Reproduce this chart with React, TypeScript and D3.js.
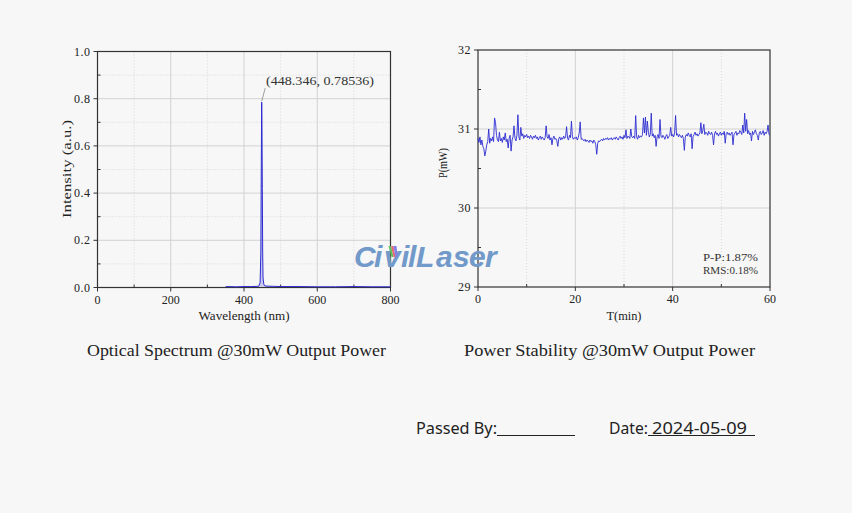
import React from "react";
import * as d3 from "d3";

// ---------- data ----------
const specWavelength = [350, 380, 400, 420, 440, 444, 446, 447, 448, 448.346, 449, 450, 451, 452, 454, 456, 460, 480, 500, 550, 600, 650, 700, 750, 800];
const specIntensity = [0.004, 0.003, 0.004, 0.004, 0.005, 0.02, 0.15, 0.45, 0.74, 0.78536, 0.7, 0.42, 0.15, 0.04, 0.015, 0.008, 0.006, 0.005, 0.004, 0.004, 0.003, 0.003, 0.004, 0.003, 0.003];
const specXTicks = [0, 200, 400, 600, 800];
const specYTicks = [0, 0.2, 0.4, 0.6, 0.8, 1.0];
const peakLabel = "(448.346, 0.78536)";

const powerStep = 0.2; // minutes between samples
const powerValues = [
  30.88, 30.83, 30.90, 30.80, 30.86, 30.78, 30.75, 30.66, 30.72, 30.80,
  30.84, 31.00, 30.82, 30.88, 30.85, 30.90, 30.84, 31.14, 31.08, 30.92,
  30.86, 30.84, 30.96, 30.85, 30.88, 30.83, 30.90, 30.86, 30.95, 30.84,
  30.87, 30.76, 30.88, 30.92, 30.72, 30.86, 30.90, 31.04, 30.88, 30.85,
  30.92, 31.18, 30.90, 30.86, 31.02, 30.91, 30.94, 30.88, 30.92, 30.90,
  30.93, 30.89, 30.91, 30.88, 30.92, 30.90, 30.87, 30.91, 30.89, 30.92,
  30.88, 30.90, 30.86, 30.89, 30.91, 30.87, 30.90, 30.88, 30.86, 30.89,
  31.04, 30.90, 30.88, 30.93, 30.86, 30.89, 30.80, 30.88, 30.91, 30.87,
  30.88, 30.85, 30.78, 30.88, 30.90, 30.86, 30.89, 30.87, 30.91, 30.88,
  30.90, 31.03, 30.88, 30.86, 30.92, 30.89, 31.10, 30.90, 30.87, 30.89,
  30.88, 30.90, 30.86, 30.89, 30.95, 31.09, 30.87, 30.88, 30.86, 30.85,
  30.87, 30.84, 30.86, 30.85, 30.83, 30.86, 30.84, 30.85, 30.82, 30.86,
  30.84, 30.80, 30.68, 30.82, 30.85, 30.84, 30.86, 30.87, 30.85, 30.88,
  30.86, 30.88, 30.87, 30.89, 30.86, 30.88, 30.87, 30.89, 30.86, 30.88,
  30.89, 30.87, 30.90, 30.88, 30.86, 30.89, 30.91, 30.88, 30.90, 30.87,
  30.92, 30.89, 30.99, 30.88, 30.91, 30.90, 30.88, 31.00, 30.90, 30.89,
  30.91, 30.88, 31.17, 30.90, 30.87, 30.92, 30.89, 30.91, 30.90, 30.93,
  31.14, 30.95, 31.15, 30.92, 31.10, 30.96, 30.90, 30.93, 31.20, 30.91,
  30.94, 30.89, 30.92, 30.78, 30.90, 30.93, 30.88, 31.12, 30.91, 30.89,
  30.92, 30.90, 30.87, 30.91, 30.93, 30.88, 30.90, 30.92, 31.02, 30.91,
  30.93, 30.90, 30.95, 31.17, 30.92, 30.94, 30.90, 30.93, 30.91, 30.89,
  30.92, 30.88, 30.73, 30.90, 30.93, 30.91, 30.95, 30.92, 30.90, 30.94,
  30.75, 30.91, 30.93, 30.96, 30.92, 30.94, 30.91, 30.93, 30.95, 31.08,
  30.94, 30.98, 31.06, 30.93, 30.96, 30.95, 30.92, 30.97, 30.94, 30.93,
  30.96, 30.92, 30.80, 30.94, 30.97, 30.93, 30.95, 30.91, 30.94, 30.96,
  30.92, 30.95, 30.93, 30.97, 30.82, 30.94, 30.96, 30.93, 30.95, 30.92,
  30.94, 30.96, 30.80, 30.93, 30.95, 30.97, 30.92, 30.95, 30.94, 30.98,
  30.96, 30.93, 31.05, 30.95, 31.20, 30.97, 31.12, 30.94, 30.98, 30.93,
  30.95, 30.85, 30.97, 30.93, 30.96, 30.99, 30.94, 30.92, 30.86, 30.95,
  30.97, 30.93, 30.95, 30.98, 30.92, 30.96, 30.94, 30.97, 31.05, 30.93,
  30.92,
];
const powerXTicks = [0, 20, 40, 60];
const powerYTicks = [29, 30, 31, 32];
const statLines = ["P-P:1.87%", "RMS:0.18%"];

const captionLeft = "Optical Spectrum @30mW Output Power";
const captionRight = "Power Stability @30mW Output Power";

const watermarkLetters = ["C", "i", "v", "i", "l", "L", "a", "s", "e", "r"];

// ---------- styles ----------
const BG = "#f7f7f7";
const AXIS = "#333";
const GRID = "#d2d2d2";
const MINOR = "#d8d8d8";
const LINE = "#2b2bd0";
const SERIF = "'Liberation Serif', 'DejaVu Serif', serif";

type Frame = { x0: number; x1: number; y0: number; y1: number };

function Axes({ fx, fy, f, xMajor, xMinor, yMajor, yMinor, yMinorGrid, xFmt, yFmt }: any) {
  const { x0, x1, y0, y1 } = f as Frame;
  return (
    <g>
      {xMinor.map((v: number) => (
        <line key={"xm" + v} x1={fx(v)} x2={fx(v)} y1={y0} y2={y1} stroke={MINOR} strokeDasharray="1,2" />
      ))}
      {yMinorGrid && yMinor.map((v: number) => (
        <line key={"ym" + v} x1={x0} x2={x1} y1={fy(v)} y2={fy(v)} stroke={MINOR} strokeDasharray="1,2" />
      ))}
      {xMajor.slice(1, -1).map((v: number) => (
        <line key={"xg" + v} x1={fx(v)} x2={fx(v)} y1={y0} y2={y1} stroke={GRID} />
      ))}
      {yMajor.slice(1, -1).map((v: number) => (
        <line key={"yg" + v} x1={x0} x2={x1} y1={fy(v)} y2={fy(v)} stroke={GRID} />
      ))}
      <rect x={x0} y={y0} width={x1 - x0} height={y1 - y0} fill="none" stroke={AXIS} strokeWidth={1.2} />
      {xMajor.map((v: number) => (
        <g key={"xt" + v}>
          <line x1={fx(v)} x2={fx(v)} y1={y1} y2={y1 + 4} stroke={AXIS} />
          <text x={fx(v)} y={y1 + 16} textAnchor="middle" fontFamily={SERIF} fontSize={12} fill="#222">{xFmt(v)}</text>
        </g>
      ))}
      {xMinor.map((v: number) => (
        <line key={"xmt" + v} x1={fx(v)} x2={fx(v)} y1={y1} y2={y1 - 3} stroke={AXIS} />
      ))}
      {yMajor.map((v: number) => (
        <g key={"yt" + v}>
          <line x1={x0} x2={x0 - 4} y1={fy(v)} y2={fy(v)} stroke={AXIS} />
          <text x={x0 - 7} y={fy(v) + 4} textAnchor="end" fontFamily={SERIF} fontSize={12} fill="#222" letterSpacing={0.5}>{yFmt(v)}</text>
        </g>
      ))}
      {yMinor.map((v: number) => (
        <line key={"ymt" + v} x1={x0} x2={x0 + 3} y1={fy(v)} y2={fy(v)} stroke={AXIS} />
      ))}
    </g>
  );
}

export default function App() {
  const fL: Frame = { x0: 97.5, x1: 390.5, y0: 51.5, y1: 287.5 };
  const xL = d3.scaleLinear().domain([0, 800]).range([fL.x0, fL.x1]);
  const yL = d3.scaleLinear().domain([0, 1]).range([fL.y1, fL.y0]);
  const specLine = d3.line<number>().x((_, i) => xL(specWavelength[i])).y((d) => yL(d))(specIntensity) || "";

  const fR: Frame = { x0: 478, x1: 770, y0: 50, y1: 287 };
  const xR = d3.scaleLinear().domain([0, 60]).range([fR.x0, fR.x1]);
  const yR = d3.scaleLinear().domain([29, 32]).range([fR.y1, fR.y0]);
  const powerLine = d3.line<number>().x((_, i) => xR(i * powerStep)).y((d) => yR(d))(powerValues) || "";

  const px = xL(448.346);
  const py = yL(0.78536);

  const wmX = [354, 374, 384, 401, 408, 416, 436, 453, 469, 485];

  return (
    <svg width={852} height={513} style={{ position: "fixed", left: 0, top: 0, background: BG }}>
      <rect width={852} height={513} fill={BG} />

      {/* ----- left chart ----- */}
      <Axes fx={xL} fy={yL} f={fL}
        xMajor={specXTicks} xMinor={[100, 300, 500, 700]}
        yMajor={specYTicks} yMinor={[0.1, 0.3, 0.5, 0.7, 0.9]} yMinorGrid={true}
        xFmt={(v: number) => String(v)} yFmt={(v: number) => v.toFixed(1)} />
      <path d={specLine} fill="#9a9af0" fillOpacity={0.5} stroke={LINE} strokeWidth={1} />
      <line x1={px} y1={py - 1} x2={px + 3.5} y2={py - 14} stroke="#888" strokeWidth={0.8} />
      <text x={266} y={85} fontFamily={SERIF} fontSize={12.5} fill="#333" textLength={108} lengthAdjust="spacingAndGlyphs">{peakLabel}</text>
      <text x={fL.x0 + (fL.x1 - fL.x0) / 2} y={320} textAnchor="middle" fontFamily={SERIF} fontSize={12.5} fill="#222" textLength={91} lengthAdjust="spacingAndGlyphs">Wavelength (nm)</text>
      <text transform={`translate(71,${169}) rotate(-90)`} textAnchor="middle" fontFamily={SERIF} fontSize={12.5} fill="#222" textLength={98} lengthAdjust="spacingAndGlyphs">Intensity (a.u.)</text>

      {/* ----- right chart ----- */}
      <Axes fx={xR} fy={yR} f={fR}
        xMajor={powerXTicks} xMinor={[10, 30, 50]}
        yMajor={powerYTicks} yMinor={[29.5, 30.5, 31.5]} yMinorGrid={false}
        xFmt={(v: number) => String(v)} yFmt={(v: number) => String(v)} />
      <path d={powerLine} fill="none" stroke={LINE} strokeWidth={0.9} strokeLinejoin="round" />
      {statLines.map((s, i) => (
        <text key={s} x={703} y={261 + i * 13} fontFamily={SERIF} fontSize={11} fill="#333" textLength={55} lengthAdjust="spacingAndGlyphs">{s}</text>
      ))}
      <text x={(fR.x0 + fR.x1) / 2} y={320} textAnchor="middle" fontFamily={SERIF} fontSize={12.5} fill="#222" textLength={35} lengthAdjust="spacingAndGlyphs">T(min)</text>
      <text transform={`translate(447,${163}) rotate(-90)`} textAnchor="middle" fontFamily={SERIF} fontSize={12.5} fill="#222" textLength={30} lengthAdjust="spacingAndGlyphs">P(mW)</text>

      {/* ----- watermark ----- */}
      <g>
        <text y={267} fontFamily="'Liberation Sans', Arial, sans-serif" fontWeight="bold" fontStyle="italic" fontSize={30} fill="#7199c9">
          {watermarkLetters.map((ch, i) => (
            <tspan key={i} x={wmX[i]}>{ch}</tspan>
          ))}
        </text>
        <polygon points="388.5,246 391,246 393.5,257 391.5,257" fill="#5cc05c" />
        <polygon points="391,246 393.5,246 395.5,257 393.5,257" fill="#e46a7a" />
        <polygon points="393.5,246 396.5,246 397.5,257 395.5,257" fill="#7f7fe6" />
      </g>

      {/* ----- captions ----- */}
      <text x={87} y={356} fontFamily={SERIF} fontSize={17} fill="#222" textLength={299} lengthAdjust="spacingAndGlyphs">{captionLeft}</text>
      <text x={464} y={356} fontFamily={SERIF} fontSize={17} fill="#222" textLength={291} lengthAdjust="spacingAndGlyphs">{captionRight}</text>

      {/* ----- sign-off ----- */}
      <text x={416} y={434} fontFamily="'Noto Sans', sans-serif" fontSize={16} fill="#222" textLength={81} lengthAdjust="spacingAndGlyphs">Passed  By:</text>
      <line x1={497} x2={575} y1={435.5} y2={435.5} stroke="#222" strokeWidth={1} />
      <text x={609} y={434} fontFamily="'Noto Sans', sans-serif" fontSize={16} fill="#222" textLength={39} lengthAdjust="spacingAndGlyphs">Date:</text>
      <text x={652} y={434} fontFamily="'Noto Sans', sans-serif" fontSize={16} fill="#222" textLength={95} lengthAdjust="spacingAndGlyphs">2024-05-09</text>
      <line x1={648} x2={755} y1={435.5} y2={435.5} stroke="#222" strokeWidth={1} />
    </svg>
  );
}
